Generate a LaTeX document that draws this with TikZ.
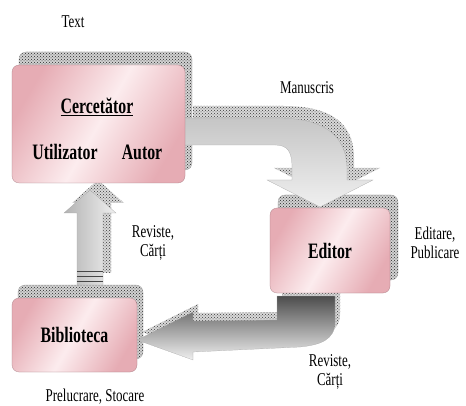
\documentclass[tikz,border=0pt]{standalone}
\usepackage{fontspec}
\setmainfont[FakeStretch=0.72]{Liberation Serif}
\usepackage{tikz}
\usetikzlibrary{patterns}
\definecolor{boxPink}{RGB}{230,172,180}
\definecolor{boxLight}{RGB}{252,236,238}
\newcommand{\lblFont}{\fontsize{18}{19}\selectfont}
\newcommand{\boxFont}{\fontsize{22}{24}\selectfont\bfseries}

\begin{document}
\begin{tikzpicture}[x=1pt,y=-1pt]
	\tikzset{box/.style = {rectangle,rounded corners=7pt,draw=boxPink!70!black,very thin,left color=boxPink,right color=boxPink,middle color=boxLight,shading angle=60,inner sep=0pt}}
	\tikzset{boxShadow/.style = {rectangle,rounded corners=7pt,draw=gray!80,very thin,preaction={fill=gray!35},pattern=crosshatch dots,pattern color=gray!30!black,inner sep=0pt}}
	\tikzset{lbl/.style = {align=center,inner sep=1pt,font=\lblFont}}
	\tikzstyle{arrowShadow} = [preaction={fill=gray!30},pattern=crosshatch dots,pattern color=gray!45!black]
	\tikzstyle{lightArrow} = [draw=gray!70,very thin,top color=gray!45,bottom color=gray!12]
	\tikzstyle{darkArrow} = [draw=gray!70,very thin,top color=black!70,bottom color=gray!12]
	\useasboundingbox (0,0) rectangle (466,406);
	%shadows of the boxes
	\node[boxShadow,minimum width=173,minimum height=118] (cercShadow) at (105.5,111) {};
	\node[boxShadow,minimum width=120,minimum height=85] (editShadow) at (338,237.5) {};
	\node[boxShadow,minimum width=125,minimum height=74] (biblShadow) at (80.5,322) {};
	%Manuscris
	\path[arrowShadow,shift={(7,-12)}] (186,118) -- (277,118) .. controls (330,118) and (347,140) .. (347,170) -- (347,180) -- (373,180) -- (320,207) -- (267,180) -- (292,180) -- (292,168) .. controls (292,152) and (288,145) .. (275,145) -- (186,145) -- cycle;
	\path[lightArrow] (184,118) -- (277,118) .. controls (330,118) and (347,140) .. (347,170) -- (347,180) -- (373,180) -- (320,207) -- (267,180) -- (292,180) -- (292,168) .. controls (292,152) and (288,145) .. (275,145) -- (184,145) -- cycle;
	%Reviste, Carti (from editor)
	\path[arrowShadow,shift={(5,-8)}] (277,296) -- (335,296) -- (335,322) .. controls (335,340) and (320,345) .. (300,347) -- (193,352) -- (193,360) -- (137,340) -- (193,312) -- (193,321) -- (277,320) -- cycle;
	\path[darkArrow] (277,296) -- (335,296) -- (335,322) .. controls (335,340) and (320,345) .. (300,347) -- (193,352) -- (193,360) -- (137,340) -- (193,312) -- (193,321) -- (277,320) -- cycle;
	%Reviste, Carti (to cercetator)
	\path[arrowShadow,shift={(8,-10)}] (77,283) -- (77,213) -- (64,213) -- (90,190) -- (116,213) -- (103,213) -- (103,283) -- cycle;
	\path[draw=gray!70,very thin,left color=gray!60,right color=gray!12] (77,285) -- (77,213) -- (64,213) -- (90,190) -- (116,213) -- (103,213) -- (103,285) -- cycle;
	\foreach \y in {271,276,281}
		\draw[gray!55!black,thin] (77,\y) -- (103,\y);
	%Cercetator
	\node[box,minimum width=173,minimum height=118] (cerc) at (98.5,124) {};
	\node[font=\boxFont] (cercTitle) at (97,107) {\underline{Cercetător}};
	\node[font=\boxFont] (util) at (65,152) {Utilizator};
	\node[font=\boxFont] (autor) at (142,152) {Autor};
	%Editor
	\node[box,minimum width=120,minimum height=85] (edit) at (330,250.5) {\boxFont Editor};
	%Biblioteca
	\node[box,minimum width=125,minimum height=74] (bibl) at (74.5,335) {\boxFont Biblioteca};
	%labels
	\node[lbl] (text) at (73,22) {Text};
	\node[lbl] (manus) at (307,88) {Manuscris};
	\node[lbl] (revUp) at (153,243) {Reviste,\\Cărți};
	\node[lbl] (editare) at (435,243) {Editare,\\Publicare};
	\node[lbl] (revDown) at (330,372) {Reviste,\\Cărți};
	\node[lbl] (prel) at (95,397) {Prelucrare, Stocare};
\end{tikzpicture}
\end{document}
